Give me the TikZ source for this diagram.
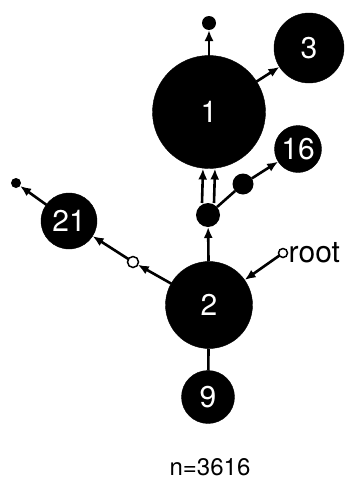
\documentclass[tikz,border=0pt]{standalone}
\usepackage{fontspec}
\setmainfont{TeX Gyre Heros}
\usetikzlibrary{arrows.meta}
\begin{document}
\begin{tikzpicture}[x=1pt,y=-1pt,
	vert/.style={circle,fill=black,draw=black,inner sep=0pt,outer sep=0pt,text=white,font=\fontsize{30}{30}\selectfont},
	dot/.style={circle,fill=black,inner sep=0pt,outer sep=0pt},
	hole/.style={circle,fill=white,draw=black,line width=1.5pt,inner sep=0pt,outer sep=0pt},
	edge/.style={line width=2.6pt,-{Latex[length=11pt,width=9pt]}},
	plain/.style={line width=2.6pt}]
				\useasboundingbox (0,0) rectangle (353,482);
				\node[vert,minimum size=113pt] (n1) at (209,112){1};
				\node[vert,minimum size=70pt] (n3) at (309,48){3};
				\node[vert,minimum size=47pt] (n16) at (298,149){16};
				\node[vert,minimum size=56pt] (n21) at (69,221){21};
				\node[vert,minimum size=87pt] (n2) at (209,305){2};
				\node[vert,minimum size=53pt] (n9) at (208,397){9};
				\node[dot,minimum size=14pt] (top) at (209,23){};
				\node[dot,minimum size=24pt] (mid) at (208,215){};
				\node[dot,minimum size=21pt] (side) at (243,184){};
				\node[dot,minimum size=10pt] (far) at (16,183){};
				\node[hole,minimum size=11pt] (via) at (133,262){};
				\node[hole,minimum size=9pt] (root) at (283,253){};
				\node[anchor=west,inner sep=0pt,xshift=1pt,font=\fontsize{30}{30}\selectfont] (rootlabel) at (root.east){root};
				\draw[edge] (n1) -- (top);
				\draw[edge] (n1) -- (n3);
				\draw[edge] ([xshift=-6pt]mid.north) -- ([xshift=-6pt]n1.south);
				\draw[edge] ([xshift=6pt]mid.north) -- ([xshift=6pt]n1.south);
				\draw[plain] (mid) -- (side);
				\draw[edge] (side) -- (n16);
				\draw[edge] (n2) -- (mid);
				\draw[edge] (n2) -- (via);
				\draw[edge] (via) -- (n21);
				\draw[edge] (n21) -- (far);
				\draw[edge] (root) -- (n2);
				\draw[plain] (n2) -- (n9);
				\node[font=\fontsize{24}{24}\selectfont] (count) at (210,467){n=3616};
			\end{tikzpicture}
\end{document}
